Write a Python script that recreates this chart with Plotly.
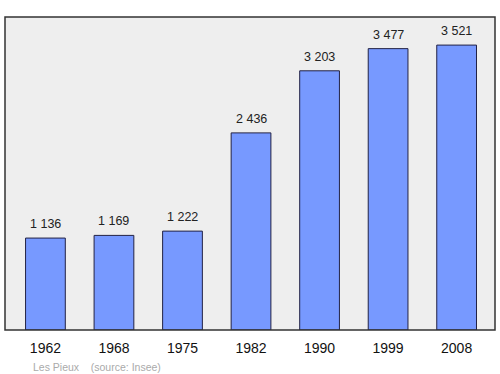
import plotly.graph_objects as go

years = ["1962", "1968", "1975", "1982", "1990", "1999", "2008"]
population = [1136, 1169, 1222, 2436, 3203, 3477, 3521]
labels = ["1 136", "1 169", "1 222", "2 436", "3 203", "3 477", "3 521"]

fig = go.Figure()
fig.add_trace(go.Bar(
    x=list(range(len(years))), y=population,
    width=0.58,
    marker=dict(color="#7799ff", line=dict(color="#222244", width=1)),
    hoverinfo="skip",
))

for i, (v, t) in enumerate(zip(population, labels)):
    fig.add_annotation(x=i, y=v, text=t, showarrow=False, yshift=14,
                       font=dict(size=12.5, color="#222222", family="Liberation Sans"))

fig.add_annotation(xref="paper", yref="paper", x=0.053, y=-0.119, xanchor="left", yanchor="middle",
                   text="Les Pieux&nbsp;&nbsp;&nbsp;&nbsp;(source: Insee)", showarrow=False,
                   font=dict(size=10.5, color="#aaaaaa", family="Liberation Sans"))

fig.add_shape(type="rect", xref="paper", yref="paper", x0=0, y0=0, x1=1, y1=1,
              line=dict(color="#333333", width=1.5), layer="above")

fig.update_layout(
    width=500, height=374,
    margin=dict(l=5, r=5, t=17, b=44),
    paper_bgcolor="white", plot_bgcolor="#eeeeee",
    showlegend=False,
    xaxis=dict(range=[-0.59, 6.56], tickmode="array", tickvals=list(range(len(years))),
               ticktext=years, showgrid=False, zeroline=False, ticks="",
               ticklabelstandoff=8,
               tickfont=dict(size=14, color="#111111", family="Liberation Sans"),
               fixedrange=True),
    yaxis=dict(range=[0, 3868], showgrid=False, zeroline=False, showticklabels=False,
               fixedrange=True),
)

fig.write_html("out.html")
